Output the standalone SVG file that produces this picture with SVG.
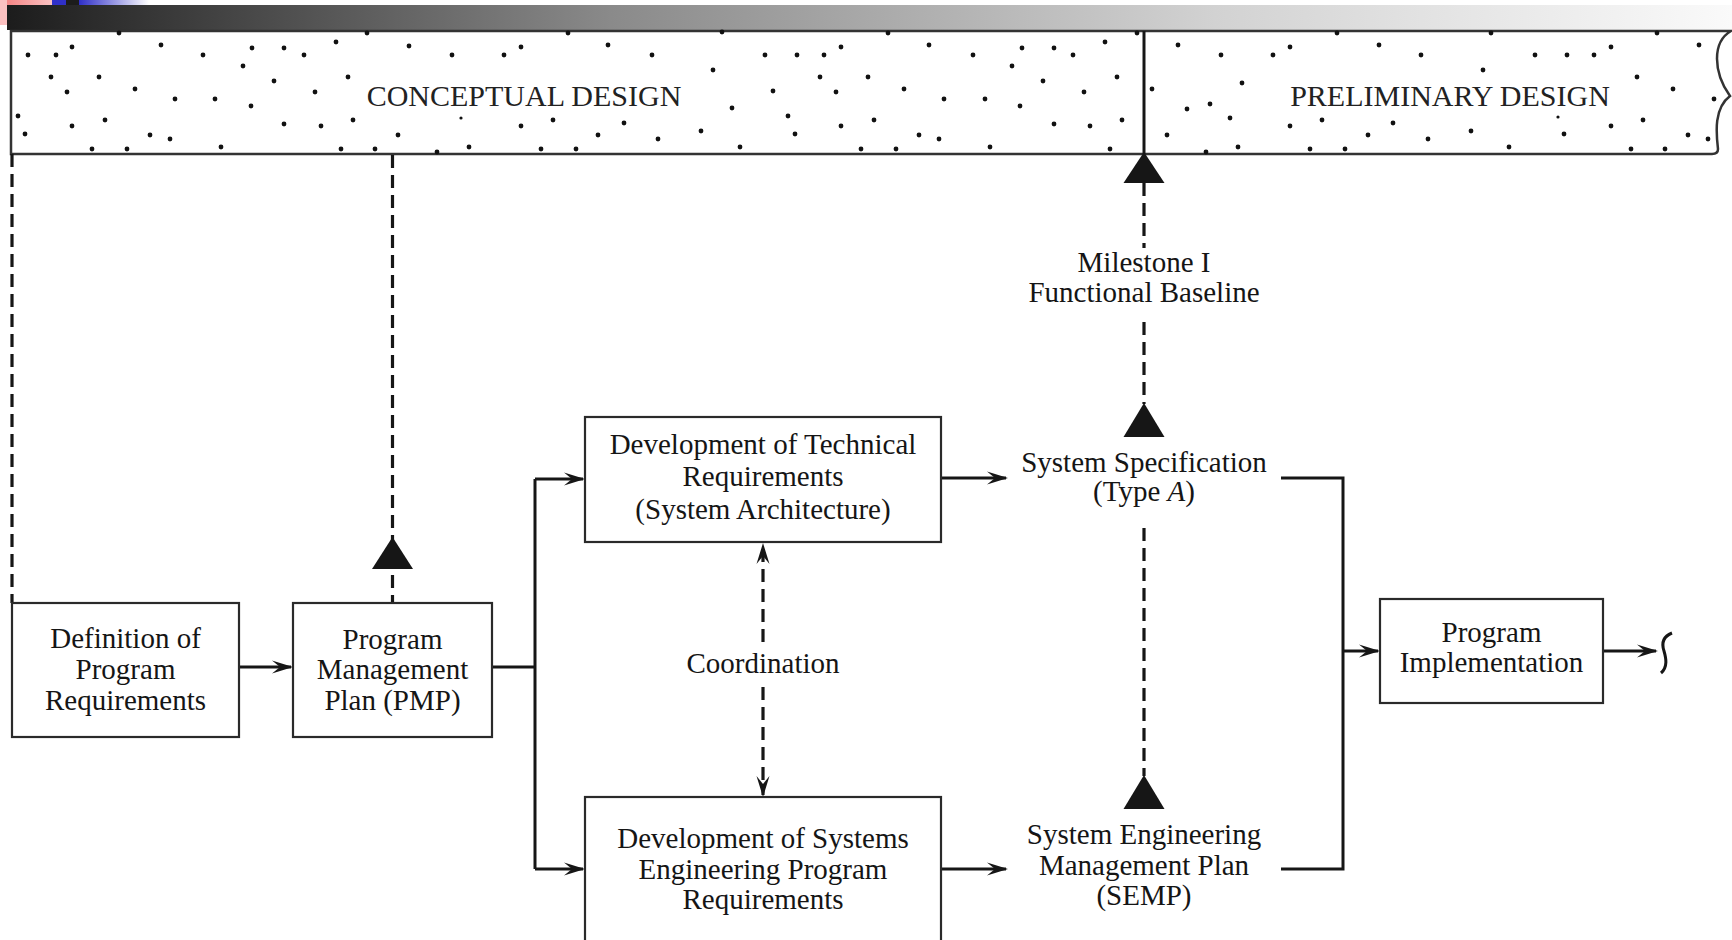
<svg xmlns="http://www.w3.org/2000/svg" width="1732" height="940" viewBox="0 0 1732 940">
<style>
  .box { fill: #ffffff; stroke: #2a2a2a; stroke-width: 2.2; }
  .lbl { font-family: "Liberation Serif", "Times New Roman", serif; font-size: 29px; fill: #151515; text-anchor: middle; }
  .ban { font-family: "Liberation Serif", "Times New Roman", serif; font-size: 30px; fill: #222222; text-anchor: middle; }
  .solid { fill: none; stroke: #161616; stroke-width: 3; }
  .dash { fill: none; stroke: #161616; stroke-width: 3.2; stroke-dasharray: 13 7; }
  .tri { fill: #161616; }
  .dot { fill: #111111; }
</style>
<defs>
  <linearGradient id="topbar" x1="0" y1="0" x2="1" y2="0">
    <stop offset="0" stop-color="#1c1c1c"/>
    <stop offset="0.35" stop-color="#8a8a8a"/>
    <stop offset="0.7" stop-color="#d2d2d2"/>
    <stop offset="1" stop-color="#fafafa"/>
  </linearGradient>
  <linearGradient id="pink" x1="0" y1="0" x2="1" y2="0">
    <stop offset="0" stop-color="#f47c7c"/>
    <stop offset="1" stop-color="#fbc8c8"/>
  </linearGradient>
  <linearGradient id="blue" x1="0" y1="0" x2="1" y2="0">
    <stop offset="0" stop-color="#2f2fc8"/>
    <stop offset="1" stop-color="#ffffff"/>
  </linearGradient>
  <marker id="arr" viewBox="-23 -8 25 16" refX="-2" refY="0" markerWidth="25" markerHeight="16" markerUnits="userSpaceOnUse" orient="auto">
    <path d="M0,0 L-21,-6.5 L-13,0 L-21,6.5 Z" fill="#161616"/>
  </marker>
</defs>

<rect width="1732" height="940" fill="#ffffff"/>

<g id="slide-decor">
  <rect x="0" y="0" width="56" height="5" fill="url(#pink)"/>
  <rect x="0" y="0" width="7" height="25" fill="#fbc0c0"/>
  <rect x="52" y="0" width="14" height="5" fill="#3030c8"/>
  <rect x="66" y="0" width="13" height="5" fill="#1c1c1c"/>
  <rect x="79" y="0" width="70" height="5" fill="url(#blue)"/>
  <rect x="7" y="5" width="1725" height="25" fill="url(#topbar)"/>
</g>

<g id="banner">
  <path d="M11,31 H1731 C1712,42 1713,72 1730,96 C1714,108 1716,132 1718,149 Q1718,154 1712,154 H11 Z" fill="#ffffff" stroke="#333333" stroke-width="2.5"/>
  <line x1="1144" y1="31" x2="1144" y2="154" stroke="#161616" stroke-width="3"/>
  <g id="banner-dots">
    <circle class="dot" r="2.4" cx="119" cy="33"/><circle class="dot" r="2.4" cx="367" cy="33"/><circle class="dot" r="2.4" cx="568" cy="33"/>
    <circle class="dot" r="2.4" cx="28" cy="55"/><circle class="dot" r="2.4" cx="56" cy="55"/><circle class="dot" r="2.4" cx="72" cy="47"/>
    <circle class="dot" r="2.4" cx="161" cy="45"/><circle class="dot" r="2.4" cx="203" cy="55"/><circle class="dot" r="2.4" cx="252" cy="48"/>
    <circle class="dot" r="2.4" cx="284" cy="48"/><circle class="dot" r="2.4" cx="304" cy="55"/><circle class="dot" r="2.4" cx="336" cy="42"/>
    <circle class="dot" r="2.4" cx="409" cy="46"/><circle class="dot" r="2.4" cx="452" cy="55"/><circle class="dot" r="2.4" cx="504" cy="55"/>
    <circle class="dot" r="2.4" cx="521" cy="47"/><circle class="dot" r="2.4" cx="243" cy="66"/><circle class="dot" r="2.4" cx="51" cy="77"/>
    <circle class="dot" r="2.4" cx="99" cy="77"/><circle class="dot" r="2.4" cx="274" cy="81"/><circle class="dot" r="2.4" cx="348" cy="77"/>
    <circle class="dot" r="2.4" cx="67" cy="92"/><circle class="dot" r="2.4" cx="135" cy="89"/><circle class="dot" r="2.4" cx="175" cy="99"/>
    <circle class="dot" r="2.4" cx="215" cy="99"/><circle class="dot" r="2.4" cx="251" cy="106"/><circle class="dot" r="2.4" cx="315" cy="92"/>
    <circle class="dot" r="2.4" cx="18" cy="116"/><circle class="dot" r="2.4" cx="72" cy="126"/><circle class="dot" r="2.4" cx="105" cy="120"/>
    <circle class="dot" r="2.4" cx="284" cy="124"/><circle class="dot" r="2.4" cx="321" cy="126"/><circle class="dot" r="2.4" cx="353" cy="120"/>
    <circle class="dot" r="1.6" cx="461" cy="118"/><circle class="dot" r="2.4" cx="521" cy="126"/><circle class="dot" r="2.4" cx="553" cy="120"/>
    <circle class="dot" r="2.4" cx="25" cy="134"/><circle class="dot" r="2.4" cx="150" cy="135"/><circle class="dot" r="2.4" cx="170" cy="139"/>
    <circle class="dot" r="2.4" cx="398" cy="135"/><circle class="dot" r="2.4" cx="598" cy="135"/><circle class="dot" r="2.4" cx="92" cy="149"/>
    <circle class="dot" r="2.4" cx="127" cy="149"/><circle class="dot" r="2.4" cx="221" cy="147"/><circle class="dot" r="2.4" cx="341" cy="149"/>
    <circle class="dot" r="2.4" cx="375" cy="149"/><circle class="dot" r="2.4" cx="437" cy="152"/><circle class="dot" r="2.4" cx="469" cy="147"/>
    <circle class="dot" r="2.4" cx="541" cy="149"/><circle class="dot" r="2.4" cx="576" cy="149"/>
    <circle class="dot" r="2.4" cx="722" cy="32"/><circle class="dot" r="2.4" cx="888" cy="33"/><circle class="dot" r="2.4" cx="1137" cy="33"/>
    <circle class="dot" r="2.4" cx="608" cy="45"/><circle class="dot" r="2.4" cx="652" cy="55"/><circle class="dot" r="2.4" cx="765" cy="55"/>
    <circle class="dot" r="2.4" cx="797" cy="55"/><circle class="dot" r="2.4" cx="824" cy="55"/><circle class="dot" r="2.4" cx="841" cy="47"/>
    <circle class="dot" r="2.4" cx="929" cy="45"/><circle class="dot" r="2.4" cx="973" cy="55"/><circle class="dot" r="2.4" cx="1022" cy="48"/>
    <circle class="dot" r="2.4" cx="1054" cy="48"/><circle class="dot" r="2.4" cx="1073" cy="55"/><circle class="dot" r="2.4" cx="1105" cy="42"/>
    <circle class="dot" r="2.4" cx="713" cy="70"/><circle class="dot" r="2.4" cx="820" cy="77"/><circle class="dot" r="2.4" cx="868" cy="77"/>
    <circle class="dot" r="2.4" cx="1012" cy="66"/><circle class="dot" r="2.4" cx="1117" cy="77"/><circle class="dot" r="2.4" cx="1043" cy="81"/>
    <circle class="dot" r="2.4" cx="773" cy="91"/><circle class="dot" r="2.4" cx="836" cy="92"/><circle class="dot" r="2.4" cx="904" cy="89"/>
    <circle class="dot" r="2.4" cx="944" cy="99"/><circle class="dot" r="2.4" cx="985" cy="99"/><circle class="dot" r="2.4" cx="1020" cy="106"/>
    <circle class="dot" r="2.4" cx="1084" cy="92"/><circle class="dot" r="2.4" cx="732" cy="108"/><circle class="dot" r="2.4" cx="624" cy="123"/>
    <circle class="dot" r="2.4" cx="788" cy="116"/><circle class="dot" r="2.4" cx="841" cy="126"/><circle class="dot" r="2.4" cx="874" cy="120"/>
    <circle class="dot" r="2.4" cx="1054" cy="124"/><circle class="dot" r="2.4" cx="1090" cy="126"/><circle class="dot" r="2.4" cx="1122" cy="120"/>
    <circle class="dot" r="2.4" cx="701" cy="131"/><circle class="dot" r="2.4" cx="658" cy="139"/><circle class="dot" r="2.4" cx="795" cy="134"/>
    <circle class="dot" r="2.4" cx="919" cy="135"/><circle class="dot" r="2.4" cx="939" cy="139"/><circle class="dot" r="2.4" cx="740" cy="147"/>
    <circle class="dot" r="2.4" cx="861" cy="149"/><circle class="dot" r="2.4" cx="896" cy="149"/><circle class="dot" r="2.4" cx="990" cy="147"/>
    <circle class="dot" r="2.4" cx="1110" cy="149"/>
    <circle class="dot" r="2.4" cx="1152" cy="89"/><circle class="dot" r="2.4" cx="1178" cy="45"/><circle class="dot" r="2.4" cx="1187" cy="109"/>
    <circle class="dot" r="2.4" cx="1167" cy="135"/><circle class="dot" r="2.4" cx="1337" cy="33"/><circle class="dot" r="2.4" cx="1491" cy="33"/>
    <circle class="dot" r="2.4" cx="1657" cy="33"/><circle class="dot" r="2.4" cx="1221" cy="55"/><circle class="dot" r="2.4" cx="1273" cy="55"/>
    <circle class="dot" r="2.4" cx="1290" cy="47"/><circle class="dot" r="2.4" cx="1379" cy="45"/><circle class="dot" r="2.4" cx="1421" cy="55"/>
    <circle class="dot" r="2.4" cx="1535" cy="55"/><circle class="dot" r="2.4" cx="1567" cy="55"/><circle class="dot" r="2.4" cx="1594" cy="55"/>
    <circle class="dot" r="2.4" cx="1611" cy="47"/><circle class="dot" r="2.4" cx="1699" cy="45"/><circle class="dot" r="2.4" cx="1483" cy="70"/>
    <circle class="dot" r="2.4" cx="1637" cy="77"/><circle class="dot" r="2.4" cx="1242" cy="83"/><circle class="dot" r="2.4" cx="1673" cy="89"/>
    <circle class="dot" r="2.4" cx="1714" cy="99"/><circle class="dot" r="2.4" cx="1210" cy="104"/><circle class="dot" r="2.4" cx="1230" cy="118"/>
    <circle class="dot" r="2.4" cx="1322" cy="120"/><circle class="dot" r="2.4" cx="1290" cy="126"/><circle class="dot" r="2.4" cx="1393" cy="123"/>
    <circle class="dot" r="2.4" cx="1471" cy="131"/><circle class="dot" r="1.6" cx="1558" cy="117"/><circle class="dot" r="2.4" cx="1611" cy="126"/>
    <circle class="dot" r="2.4" cx="1643" cy="120"/><circle class="dot" r="2.4" cx="1368" cy="135"/><circle class="dot" r="2.4" cx="1428" cy="139"/>
    <circle class="dot" r="2.4" cx="1564" cy="134"/><circle class="dot" r="2.4" cx="1688" cy="135"/><circle class="dot" r="2.4" cx="1708" cy="139"/>
    <circle class="dot" r="2.4" cx="1206" cy="152"/><circle class="dot" r="2.4" cx="1238" cy="147"/><circle class="dot" r="2.4" cx="1310" cy="149"/>
    <circle class="dot" r="2.4" cx="1345" cy="149"/><circle class="dot" r="2.4" cx="1509" cy="147"/><circle class="dot" r="2.4" cx="1631" cy="149"/>
    <circle class="dot" r="2.4" cx="1665" cy="149"/>
  </g>
  <text class="ban" x="524" y="106">CONCEPTUAL DESIGN</text>
  <text class="ban" x="1450" y="106">PRELIMINARY DESIGN</text>
</g>

<g id="connectors">
  <line class="dash" x1="12" y1="154" x2="12" y2="603"/>
  <line class="dash" x1="392.5" y1="155" x2="392.5" y2="603"/>
  <polygon class="tri" points="392.5,537 372,569 413,569"/>
  <polygon class="tri" points="1144,152 1123.5,183 1164.5,183"/>
  <line class="dash" x1="1144" y1="183" x2="1144" y2="248"/>
  <line class="dash" x1="1144" y1="322" x2="1144" y2="404"/>
  <polygon class="tri" points="1144,403 1123.5,437 1164.5,437"/>
  <line class="dash" x1="1144" y1="528" x2="1144" y2="776"/>
  <polygon class="tri" points="1144,775 1123.5,809 1164.5,809"/>
  <line class="dash" x1="763" y1="642" x2="763" y2="545" marker-end="url(#arr)"/>
  <line class="dash" x1="763" y1="687" x2="763" y2="795" marker-end="url(#arr)"/>
  <line class="solid" x1="239" y1="667" x2="291" y2="667" marker-end="url(#arr)"/>
  <polyline class="solid" points="492,667 535,667"/>
  <line class="solid" x1="535" y1="479" x2="535" y2="869"/>
  <line class="solid" x1="535" y1="479" x2="583" y2="479" marker-end="url(#arr)"/>
  <line class="solid" x1="535" y1="869" x2="583" y2="869" marker-end="url(#arr)"/>
  <line class="solid" x1="941" y1="478" x2="1006" y2="478" marker-end="url(#arr)"/>
  <line class="solid" x1="941" y1="869" x2="1006" y2="869" marker-end="url(#arr)"/>
  <polyline class="solid" points="1281,478 1343,478 1343,869 1281,869"/>
  <line class="solid" x1="1343" y1="651" x2="1378" y2="651" marker-end="url(#arr)"/>
  <line class="solid" x1="1603" y1="651" x2="1656" y2="651" marker-end="url(#arr)"/>
  <path class="solid" d="M1672,633 C1662,637 1662,645 1664,651 C1666,658 1668,667 1661,673"/>
</g>

<g id="node-definition">
  <rect class="box" x="12" y="603" width="227" height="134"/>
  <text class="lbl" x="125.5" y="648">Definition of</text>
  <text class="lbl" x="125.5" y="679">Program</text>
  <text class="lbl" x="125.5" y="710">Requirements</text>
</g>

<g id="node-pmp">
  <rect class="box" x="293" y="603" width="199" height="134"/>
  <text class="lbl" x="392.5" y="649">Program</text>
  <text class="lbl" x="392.5" y="679">Management</text>
  <text class="lbl" x="392.5" y="710">Plan (PMP)</text>
</g>

<g id="node-tech">
  <rect class="box" x="585" y="417" width="356" height="125"/>
  <text class="lbl" x="763" y="454">Development of Technical</text>
  <text class="lbl" x="763" y="486">Requirements</text>
  <text class="lbl" x="763" y="519">(System Architecture)</text>
</g>

<g id="node-coordination">
  <text class="lbl" x="763" y="673">Coordination</text>
</g>

<g id="node-sysreq">
  <rect class="box" x="585" y="797" width="356" height="160"/>
  <text class="lbl" x="763" y="848">Development of Systems</text>
  <text class="lbl" x="763" y="879">Engineering Program</text>
  <text class="lbl" x="763" y="909">Requirements</text>
</g>

<g id="node-milestone">
  <text class="lbl" x="1144" y="272">Milestone I</text>
  <text class="lbl" x="1144" y="302">Functional Baseline</text>
</g>

<g id="node-sysspec">
  <text class="lbl" x="1144" y="472">System Specification</text>
  <text class="lbl" x="1144" y="501">(Type <tspan font-style="italic">A</tspan>)</text>
</g>

<g id="node-semp">
  <text class="lbl" x="1144" y="844">System Engineering</text>
  <text class="lbl" x="1144" y="875">Management Plan</text>
  <text class="lbl" x="1144" y="905">(SEMP)</text>
</g>

<g id="node-implementation">
  <rect class="box" x="1380" y="599" width="223" height="104"/>
  <text class="lbl" x="1491.5" y="642">Program</text>
  <text class="lbl" x="1491.5" y="672">Implementation</text>
</g>
</svg>
